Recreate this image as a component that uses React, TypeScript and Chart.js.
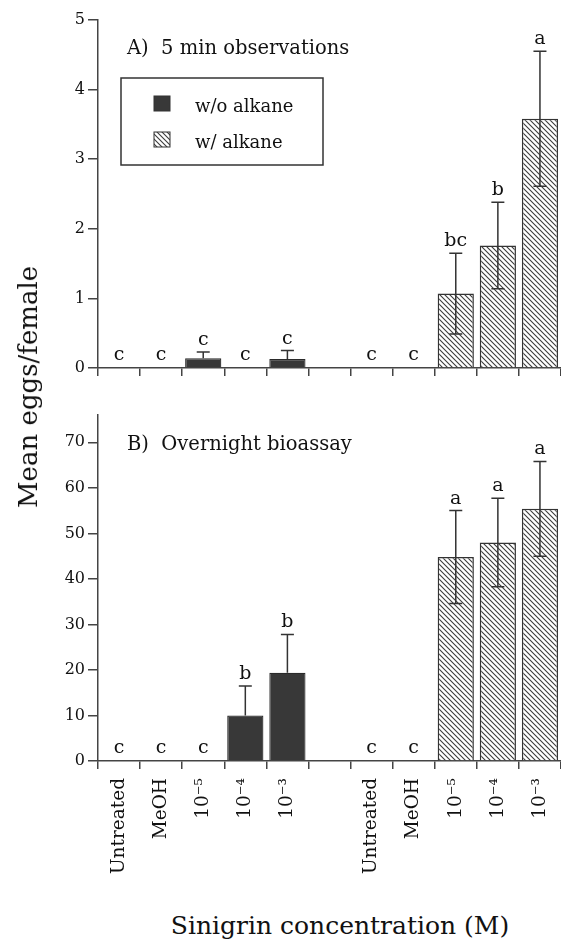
import React, { useEffect, useRef } from 'react';
import { Chart, registerables } from 'chart.js';

Chart.register(...registerables);

const FONT = '"DejaVu Serif", serif';

// ---- data ----
const categories = ['Untreated', 'MeOH', '10⁻⁵', '10⁻⁴', '10⁻³', '', 'Untreated', 'MeOH', '10⁻⁵', '10⁻⁴', '10⁻³'];
const seriesNames = ['w/o alkane', 'w/ alkane'];

const aWithout = [0, 0, 0.14, 0, 0.13, null, null, null, null, null, null];
const aWithoutErr = [0, 0, 0.09, 0, 0.12, null, null, null, null, null, null];
const aWith = [null, null, null, null, null, null, 0, 0, 1.07, 1.76, 3.58];
const aWithErr = [null, null, null, null, null, null, 0, 0, 0.58, 0.62, 0.97];
const aLetters = ['c', 'c', 'c', 'c', 'c', '', 'c', 'c', 'bc', 'b', 'a'];

const bWithout = [0, 0, 0, 10, 19.4, null, null, null, null, null, null];
const bWithoutErr = [0, 0, 0, 6.5, 8.4, null, null, null, null, null, null];
const bWith = [null, null, null, null, null, null, 0, 0, 44.8, 48.0, 55.4];
const bWithErr = [null, null, null, null, null, null, 0, 0, 10.2, 9.7, 10.4];
const bLetters = ['c', 'c', 'c', 'b', 'b', '', 'c', 'c', 'a', 'a', 'a'];

const titleA = 'A)  5 min observations';
const titleB = 'B)  Overnight bioassay';
const yTitle = 'Mean eggs/female';
const xTitle = 'Sinigrin concentration (M)';

const DARK = '#383838';
const LINE = '#333333';
const TEXT = '#111111';

function makeHatch(): CanvasPattern | string {
  const s = 5;
  const c = document.createElement('canvas');
  c.width = s;
  c.height = s;
  const g = c.getContext('2d');
  if (!g) return '#ccc';
  g.fillStyle = '#ffffff';
  g.fillRect(0, 0, s, s);
  g.strokeStyle = '#3c3c3c';
  g.lineWidth = 1.1;
  g.beginPath();
  g.moveTo(-1, -1);
  g.lineTo(s + 1, s + 1);
  g.moveTo(-1, s - 1);
  g.lineTo(1, s + 1);
  g.moveTo(s - 1, -1);
  g.lineTo(s + 1, 1);
  g.stroke();
  const p = g.createPattern(c, 'repeat');
  return p || '#ccc';
}

const annotPlugin = {
  id: 'annot',
  afterDatasetsDraw(chart: any, _args: any, opts: any) {
    const ctx = chart.ctx;
    const xs = chart.scales.x;
    const ys = chart.scales.y;
    const area = chart.chartArea;
    ctx.save();
    ctx.strokeStyle = LINE;
    ctx.lineWidth = 1.5;
    ctx.fillStyle = TEXT;
    ctx.font = `19px ${FONT}`;
    ctx.textAlign = 'center';
    ctx.textBaseline = 'alphabetic';
    chart.data.datasets.forEach((ds: any, di: number) => {
      ds.data.forEach((v: number | null, i: number) => {
        if (v == null) return;
        const err = opts.errs[di][i] || 0;
        const cx = xs.getPixelForValue(i);
        const topV = ys.getPixelForValue(v + err);
        if (err > 0) {
          const lowV = di === 1 ? ys.getPixelForValue(v - err) : ys.getPixelForValue(v);
          ctx.beginPath();
          ctx.moveTo(cx, lowV);
          ctx.lineTo(cx, topV);
          ctx.moveTo(cx - 6.5, topV);
          ctx.lineTo(cx + 6.5, topV);
          if (di === 1) {
            ctx.moveTo(cx - 6.5, lowV);
            ctx.lineTo(cx + 6.5, lowV);
          }
          ctx.stroke();
        }
        const letter = opts.letters[i];
        if (letter) {
          const base = v + err > 0 ? topV - 7 : ys.getPixelForValue(0) - 8;
          ctx.fillText(letter, cx, base);
        }
      });
    });
    // panel title
    ctx.textAlign = 'left';
    ctx.font = `19.5px ${FONT}`;
    ctx.fillText(opts.title, area.left + 29, area.top + opts.titleDy);
    // legend
    if (opts.legend) {
      const lx = area.left + 23;
      const ly = area.top + 58;
      ctx.lineWidth = 1.5;
      ctx.strokeStyle = LINE;
      ctx.strokeRect(lx, ly, 202, 87);
      const sets = chart.data.datasets;
      const rows = [ly + 18, ly + 54];
      ctx.font = `18px ${FONT}`;
      sets.forEach((ds: any, k: number) => {
        ctx.fillStyle = ds.backgroundColor;
        ctx.fillRect(lx + 33, rows[k], 16, 15);
        ctx.lineWidth = 1;
        ctx.strokeStyle = LINE;
        ctx.strokeRect(lx + 33, rows[k], 16, 15);
        ctx.fillStyle = TEXT;
        ctx.fillText(ds.label, lx + 74, rows[k] + 16);
      });
    }
    ctx.restore();
  },
};

function buildConfig(
  without: (number | null)[],
  withA: (number | null)[],
  errs: (number | null)[][],
  letters: string[],
  yMax: number,
  step: number,
  showLabels: boolean,
  topPad: number,
  xHeight: number,
  title: string,
  titleDy: number,
  legend: boolean,
  hatch: any
): any {
  const tickFont = { family: FONT, size: 16 };
  return {
    type: 'bar',
    data: {
      labels: categories,
      datasets: [
        {
          label: seriesNames[0],
          data: without,
          backgroundColor: DARK,
          borderColor: '#2a2a2a',
          borderWidth: 1.2,
          grouped: false,
          barPercentage: 0.86,
          categoryPercentage: 1,
        },
        {
          label: seriesNames[1],
          data: withA,
          backgroundColor: hatch,
          borderColor: LINE,
          borderWidth: 1.5,
          grouped: false,
          barPercentage: 0.86,
          categoryPercentage: 1,
        },
      ],
    },
    options: {
      responsive: false,
      maintainAspectRatio: false,
      animation: false,
      layout: { padding: { top: topPad, left: 0, right: 0, bottom: 0 } },
      plugins: {
        legend: { display: false },
        tooltip: { enabled: false },
        annot: { errs, letters, title, titleDy, legend },
      },
      scales: {
        x: {
          offset: true,
          grid: {
            offset: true,
            drawOnChartArea: false,
            drawTicks: true,
            tickLength: 8,
            color: '#444',
            lineWidth: 1.5,
          },
          border: { color: '#444', width: 1.5 },
          ticks: {
            display: showLabels,
            minRotation: 90,
            maxRotation: 90,
            autoSkip: false,
            padding: 9,
            color: TEXT,
            font: { family: FONT, size: 18.5 },
          },
          afterFit: (s: any) => {
            s.height = xHeight;
            s.paddingLeft = 0;
            s.paddingRight = 0;
          },
        },
        y: {
          min: 0,
          max: yMax,
          ticks: {
            stepSize: step,
            includeBounds: false,
            padding: 3,
            color: TEXT,
            font: tickFont,
          },
          grid: {
            drawOnChartArea: false,
            tickLength: 10,
            color: '#444',
            lineWidth: 1.5,
          },
          border: { color: '#444', width: 1.5 },
          afterFit: (s: any) => {
            s.width = 98;
            s.paddingTop = 0;
            s.paddingBottom = 0;
          },
        },
      },
    },
    plugins: [annotPlugin],
  };
}

export default function App() {
  const refA = useRef<HTMLCanvasElement>(null);
  const refB = useRef<HTMLCanvasElement>(null);

  useEffect(() => {
    const hatch = makeHatch();
    const chartA = new Chart(
      refA.current as HTMLCanvasElement,
      buildConfig(aWithout, aWith, [aWithoutErr, aWithErr], aLetters, 5, 1, false, 20, 17, titleA, 34, true, hatch)
    );
    const chartB = new Chart(
      refB.current as HTMLCanvasElement,
      buildConfig(bWithout, bWith, [bWithoutErr, bWithErr], bLetters, 76, 10, true, 30, 144, titleB, 35, false, hatch)
    );
    return () => {
      chartA.destroy();
      chartB.destroy();
    };
  }, []);

  return (
    <div style={{ position: 'absolute', left: 0, top: 0, width: 561, height: 943, background: '#fff', overflow: 'hidden' }}>
      <canvas ref={refA} width={561} height={385} style={{ position: 'absolute', left: 0, top: 0, width: 561, height: 385 }} />
      <canvas ref={refB} width={561} height={520} style={{ position: 'absolute', left: 0, top: 385, width: 561, height: 520 }} />
      <div
        style={{
          position: 'absolute',
          left: 28,
          top: 387,
          transform: 'translate(-50%, -50%) rotate(-90deg)',
          whiteSpace: 'nowrap',
          fontFamily: FONT,
          fontSize: 26,
          color: TEXT,
        }}
      >
        {yTitle}
      </div>
      <div
        style={{
          position: 'absolute',
          left: 340,
          top: 925,
          transform: 'translate(-50%, -50%)',
          whiteSpace: 'nowrap',
          fontFamily: FONT,
          fontSize: 25,
          color: TEXT,
        }}
      >
        {xTitle}
      </div>
    </div>
  );
}
